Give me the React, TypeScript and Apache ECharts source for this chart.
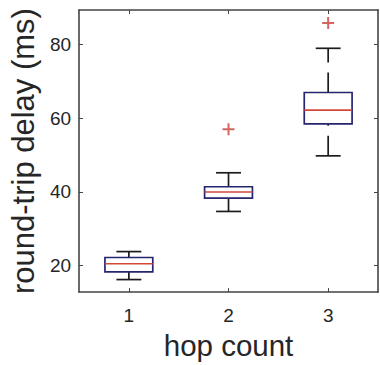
import React, { useEffect, useRef } from "react";
import * as echarts from "echarts";

const hops = ["1", "2", "3"];
const mins = [16.2, 34.7, 49.8];
const q1s = [18.3, 38.3, 58.5];
const medians = [20.5, 40.0, 62.2];
const q3s = [22.2, 41.4, 67.0];
const maxs = [23.8, 45.2, 79.0];
const outlierHop = [1, 2];
const outlierValue = [57.0, 85.9];
const yTicks = [20, 40, 60, 80];

const FONT = "'Liberation Sans', Arial, sans-serif";
const TEXT = "#262626";
const AXIS = "#444444";

export default function App() {
  const ref = useRef<HTMLDivElement>(null);
  useEffect(() => {
    if (!ref.current) return;
    const chart = echarts.init(ref.current, null, { renderer: "svg" });
    const boxData = hops.map((_, i) => [i, mins[i], q1s[i], medians[i], q3s[i], maxs[i]]);
    const outData = outlierHop.map((h, i) => [h, outlierValue[i]]);
    const frameAxisX = {
      type: "category",
      data: hops,
      boundaryGap: true,
      axisLine: { show: true, lineStyle: { color: AXIS, width: 1.6 } },
      axisTick: { show: true, inside: true, alignWithLabel: true, length: 4, lineStyle: { color: AXIS } },
      splitLine: { show: false },
    };
    const frameAxisY = {
      type: "value",
      min: 12.8,
      max: 89.4,
      axisLine: { show: true, lineStyle: { color: AXIS, width: 1.6 } },
      splitLine: { show: false },
    };
    chart.setOption({
      animation: false,
      backgroundColor: "#ffffff",
      grid: { left: 75, right: 2, top: 10, bottom: 68, containLabel: false },
      xAxis: [
        {
          ...frameAxisX,
          position: "bottom",
          name: "hop count",
          nameLocation: "middle",
          nameGap: 37,
          nameTextStyle: { fontFamily: FONT, fontSize: 29.5, color: TEXT },
          axisLabel: { margin: 14, fontFamily: FONT, fontSize: 19, color: TEXT },
        },
        {
          ...frameAxisX,
          position: "top",
          axisLabel: { show: false },
        },
      ],
      yAxis: [
        {
          ...frameAxisY,
          position: "left",
          name: "round-trip delay (ms)",
          nameLocation: "middle",
          nameGap: 37,
          nameTextStyle: { fontFamily: FONT, fontSize: 31, color: TEXT },
          axisTick: { show: true, inside: true, length: 4, customValues: yTicks, lineStyle: { color: AXIS } },
          axisLabel: { margin: 8, fontFamily: FONT, fontSize: 19, color: TEXT, customValues: yTicks },
        },
        {
          ...frameAxisY,
          position: "right",
          axisTick: { show: true, inside: true, length: 4, customValues: yTicks, lineStyle: { color: AXIS } },
          axisLabel: { show: false, customValues: yTicks },
        },
      ],
      series: [
        {
          type: "custom",
          xAxisIndex: 0,
          yAxisIndex: 0,
          encode: { x: 0, y: [1, 2, 3, 4, 5] },
          data: boxData,
          renderItem: (params: any, api: any) => {
            const idx = api.value(0);
            const cx = api.coord([idx, api.value(3)])[0];
            const band = api.size([1, 0])[0];
            const bw = band * 0.48;
            const cw = band * 0.25;
            const yMin = api.coord([idx, api.value(1)])[1];
            const yQ1 = api.coord([idx, api.value(2)])[1];
            const yMed = api.coord([idx, api.value(3)])[1];
            const yQ3 = api.coord([idx, api.value(4)])[1];
            const yMax = api.coord([idx, api.value(5)])[1];
            const black = { stroke: "#1c1c1c", lineWidth: 1.7 };
            return {
              type: "group",
              children: [
                {
                  type: "line",
                  shape: { x1: cx, y1: yMin, x2: cx, y2: yQ1 },
                  style: { ...black, lineDash: [20, 10] },
                },
                {
                  type: "line",
                  shape: { x1: cx, y1: yQ3, x2: cx, y2: yMax },
                  style: { ...black, lineDash: [20, 10] },
                },
                {
                  type: "line",
                  shape: { x1: cx - cw / 2, y1: yMin, x2: cx + cw / 2, y2: yMin },
                  style: black,
                },
                {
                  type: "line",
                  shape: { x1: cx - cw / 2, y1: yMax, x2: cx + cw / 2, y2: yMax },
                  style: black,
                },
                {
                  type: "rect",
                  shape: { x: cx - bw / 2, y: yQ3, width: bw, height: yQ1 - yQ3 },
                  style: { fill: "none", stroke: "#26266e", lineWidth: 1.7 },
                },
                {
                  type: "line",
                  shape: { x1: cx - bw / 2, y1: yMed, x2: cx + bw / 2, y2: yMed },
                  style: { stroke: "#d2493c", lineWidth: 1.6 },
                },
              ],
            };
          },
        },
        {
          type: "scatter",
          xAxisIndex: 0,
          yAxisIndex: 0,
          data: outData,
          symbol: "path://M5,0H7V5H12V7H7V12H5V7H0V5H5Z",
          symbolSize: 12,
          itemStyle: { color: "#c8403a" },
        },
      ],
    });
    return () => chart.dispose();
  }, []);
  return (
    <div
      ref={ref}
      style={{ position: "fixed", left: 0, top: 0, width: 380, height: 365, background: "#fff" }}
    />
  );
}
